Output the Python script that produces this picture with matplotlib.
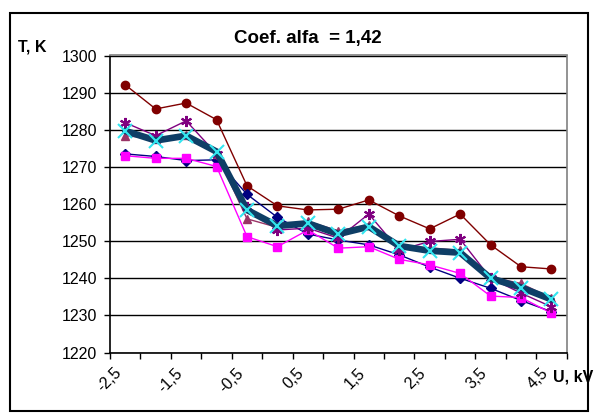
import numpy as np
import matplotlib
matplotlib.use("Agg")
import matplotlib.pyplot as plt
from matplotlib.patches import Rectangle
from matplotlib.transforms import ScaledTranslation

plt.rcParams["font.family"] = ["Liberation Sans", "DejaVu Sans"]

# voltage steps (kV) and measured temperatures (K) for each run
u_kv = [-2.5, -2.0, -1.5, -1.0, -0.5, 0.0, 0.5, 1.0, 1.5, 2.0, 2.5, 3.0, 3.5, 4.0, 4.5]

t_circle = [1292.1, 1285.6, 1287.2, 1282.7, 1264.9, 1259.5, 1258.4, 1258.6,
            1261.1, 1256.8, 1253.3, 1257.3, 1249.0, 1243.1, 1242.5]
t_diamond = [1273.5, 1272.8, 1271.7, 1271.9, 1262.6, 1256.4, 1251.9, 1250.3,
             1249.0, 1246.3, 1243.0, 1240.0, 1237.3, 1234.0, 1231.0]
t_square = [1273.0, 1272.3, 1272.3, 1270.1, 1251.2, 1248.5, 1253.0, 1248.1,
            1248.5, 1245.1, 1243.6, 1241.3, 1235.2, 1234.8, 1230.6]
t_triangle = [1278.4, 1277.6, 1278.6, 1273.6, 1256.0, 1253.7, 1255.3, 1252.8,
              1254.4, 1248.3, 1248.2, 1247.5, 1240.3, 1238.6, 1234.6]
t_star = [1281.9, 1278.4, 1282.4, 1273.5, 1259.3, 1253.0, 1253.5, 1250.8,
          1257.3, 1247.6, 1249.9, 1250.5, 1240.0, 1236.0, 1232.3]
t_cross = [1279.7, 1277.1, 1278.4, 1274.1, 1258.4, 1254.1, 1254.8, 1251.9,
           1253.9, 1248.7, 1247.4, 1246.9, 1240.0, 1237.5, 1234.3]

W, H = 596, 415
fig = plt.figure(figsize=(W / 100, H / 100), dpi=100)
ax = fig.add_axes([110 / W, 1 - 352.5 / H, (566.7 - 110) / W, (352.5 - 55.5) / H])

x = np.arange(len(u_kv))

ax.plot(x, t_circle, "-o", color="#800000", lw=1, ms=6, zorder=3)
ax.plot(x, t_diamond, "-D", color="#000080", lw=1, ms=5, zorder=3)
ax.plot(x, t_square, "-s", color="#FF00FF", lw=1, ms=6, zorder=3)
ax.plot(x, t_triangle, "-^", color="#993366", lw=1, ms=6, zorder=3)
ax.plot(x, t_star, "-", color="#800080", lw=1, zorder=3)
ax.plot(x, t_star, ls="none", marker=(6, 2, 0), ms=8, mec="#800080", mew=1.5, zorder=4)
ax.plot(x, t_cross, "-", color="#0E3E66", lw=4.8, zorder=4, solid_capstyle="round")
ax.plot(x, t_cross, ls="none", marker="x", ms=10, mec="#33E6F0", mew=1.5, zorder=5)

# axes limits, grid and Excel-like frame
ax.set_xlim(-0.5, len(u_kv) - 0.5)
ax.set_ylim(1220, 1300)
ax.set_yticks(np.arange(1220, 1301, 10))
ax.yaxis.grid(True, color="black", lw=1)
ax.set_axisbelow(True)
ax.tick_params(axis="y", direction="out", length=4.5, width=1, labelsize=11.5, pad=5)

# tick marks sit between categories, labels on every second category
ax.set_xticks(np.arange(-0.5, len(u_kv), 1.0))
ax.set_xticklabels([])
ax.tick_params(axis="x", which="major", direction="out", length=4, width=1)
shift = ScaledTranslation(-6 / 100, -18 / 100, fig.dpi_scale_trans)
for xi, v in zip(x[::2], u_kv[::2]):
    ax.text(xi, 0, f"{v:g}".replace(".", ","), transform=ax.get_xaxis_transform() + shift,
            rotation=45, rotation_mode="anchor", ha="right", va="center", fontsize=11.5)

for side in ("left", "bottom"):
    ax.spines[side].set_color("black")
    ax.spines[side].set_linewidth(1.2)
for side in ("top", "right"):
    ax.spines[side].set_color("#808080")
    ax.spines[side].set_linewidth(1.2)

fig.text(308 / W, 1 - 38 / H, "Coef. alfa  = 1,42", ha="center", va="center",
         fontsize=13.5, fontweight="bold")
fig.text(18 / W, 1 - 47.5 / H, "T, K", ha="left", va="center",
         fontsize=11.5, fontweight="bold")
fig.text(553 / W, 1 - 377 / H, "U, kV", ha="left", va="center",
         fontsize=11.5, fontweight="bold")

fig.patches.append(Rectangle((10 / W, 1 - 411 / H), 578 / W, 398 / H,
                             transform=fig.transFigure, fill=False,
                             ec="black", lw=1.5))

fig.savefig("out.png", dpi=100)
